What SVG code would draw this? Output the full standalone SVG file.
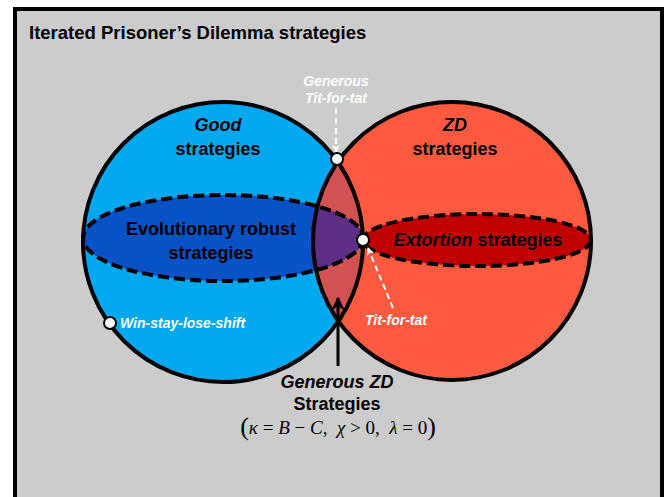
<svg xmlns="http://www.w3.org/2000/svg" width="669" height="497" viewBox="0 0 669 497">
<style>
  .t { font-family: "Liberation Sans", Arial, sans-serif; font-weight: bold; }
  .lbl { font-size: 18px; fill: #000; text-anchor: middle; }
  .wl { font-size: 14px; fill: #fff; font-style: italic; }
  .edge { fill: none; stroke: #000; stroke-width: 4; }
  .dash { fill: none; stroke: #000; stroke-width: 4; stroke-dasharray: 11 5; }
  .dot { fill: #fff; stroke: #000; stroke-width: 2; }
  .wdash { fill: none; stroke: #fff; stroke-width: 2; stroke-dasharray: 6 4; }
</style>
<defs>
  <clipPath id="clipBlue"><circle cx="223" cy="242" r="140"/></clipPath>
  <clipPath id="clipRed"><circle cx="452" cy="241" r="139"/></clipPath>
  <marker id="wArrow" viewBox="0 0 10 10" refX="9" refY="5" markerWidth="8" markerHeight="8" orient="auto" markerUnits="userSpaceOnUse">
    <path d="M0,0 L10,5 L0,10 L3,5 Z" fill="#fff"/>
  </marker>
  <marker id="bArrow" viewBox="0 0 10 10" refX="9" refY="5" markerWidth="14" markerHeight="14" orient="auto" markerUnits="userSpaceOnUse">
    <path d="M0,0 L10,5 L0,10 L3,5 Z" fill="#000"/>
  </marker>
</defs>

<rect x="15" y="9" width="647" height="500" fill="#cccccc" stroke="#000" stroke-width="4"/>
<text class="t" x="29" y="39" font-size="18.5" fill="#000">Iterated Prisoner’s Dilemma strategies</text>

<g id="good-strategies">
  <circle cx="223" cy="242" r="140" fill="#00a8f0"/>
</g>
<g id="zd-strategies">
  <circle cx="452" cy="241" r="139" fill="#ff5a40"/>
</g>
<g id="lens">
  <circle cx="452" cy="241" r="139" fill="#d25252" clip-path="url(#clipBlue)"/>
</g>
<g id="evolutionary-robust">
  <ellipse cx="223" cy="238" rx="140" ry="43" fill="#0752c6"/>
  <ellipse cx="223" cy="238" rx="140" ry="43" fill="#5e2d86" clip-path="url(#clipRed)"/>
  <ellipse class="dash" cx="223" cy="238" rx="140" ry="43"/>
</g>
<g id="extortion">
  <ellipse cx="477" cy="240" rx="114" ry="26" fill="#c00000"/>
  <ellipse class="dash" cx="477" cy="240" rx="114" ry="26"/>
</g>
<circle class="edge" cx="223" cy="242" r="140"/>
<circle class="edge" cx="452" cy="241" r="139"/>

<text class="t lbl" x="218" y="131" font-style="italic">Good</text>
<text class="t lbl" x="218" y="155">strategies</text>
<text class="t lbl" x="455" y="131" font-style="italic">ZD</text>
<text class="t lbl" x="455" y="155">strategies</text>
<text class="t lbl" x="211" y="235" font-size="18.5">Evolutionary robust</text>
<text class="t lbl" x="211" y="259">strategies</text>
<text class="t lbl" x="478" y="246"><tspan font-style="italic">Extortion</tspan> strategies</text>

<g id="connectors">
  <line class="wdash" x1="336" y1="108" x2="336" y2="152" marker-end="url(#wArrow)"/>
  <line class="wdash" x1="393" y1="308" x2="368" y2="248" marker-end="url(#wArrow)"/>
  <line x1="338" y1="366" x2="338" y2="298" stroke="#000" stroke-width="3" marker-end="url(#bArrow)"/>
</g>

<g id="gtft">
  <circle class="dot" cx="337" cy="159" r="6"/>
  <text class="t wl" x="336" y="86" text-anchor="middle">Generous</text>
  <text class="t wl" x="336" y="103" text-anchor="middle">Tit-for-tat</text>
</g>
<g id="tft">
  <circle class="dot" cx="363" cy="240" r="6"/>
  <text class="t wl" x="365" y="325">Tit-for-tat</text>
</g>
<g id="wsls">
  <circle class="dot" cx="110" cy="323" r="6"/>
  <text class="t wl" x="120" y="328">Win-stay-lose-shift</text>
</g>
<g id="generous-zd">
  <text class="t lbl" x="337" y="388" font-style="italic">Generous ZD</text>
  <text class="t lbl" x="337" y="410">Strategies</text>
  <text x="338" y="434" text-anchor="middle" font-family="Liberation Serif, serif" font-size="19" fill="#000" style="white-space:pre"><tspan font-size="26" dy="1">(</tspan><tspan dy="-1" font-style="italic">κ</tspan> = <tspan font-style="italic">B</tspan> − <tspan font-style="italic">C</tspan>,  <tspan font-style="italic">χ</tspan> &gt; 0,  <tspan font-style="italic">λ</tspan> = 0<tspan font-size="26" dy="1">)</tspan></text>
</g>
</svg>
